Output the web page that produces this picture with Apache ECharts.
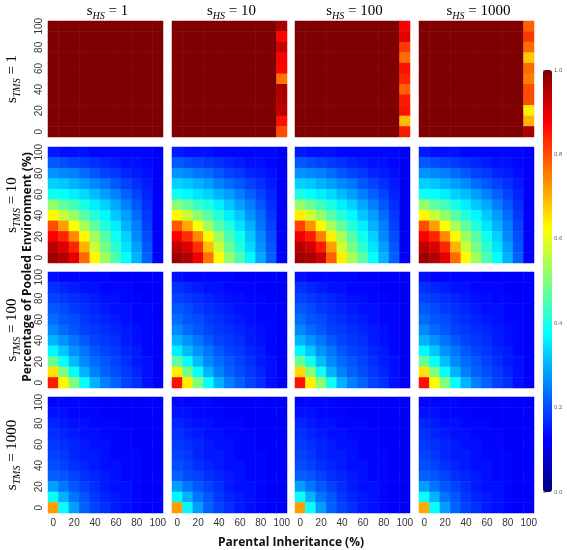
<!DOCTYPE html>
<html>
<head>
<meta charset="utf-8">
<script src="https://cdn.jsdelivr.net/npm/echarts@6/dist/echarts.min.js"></script>
<style>html,body{margin:0;padding:0;background:#fff;}#c{width:567px;height:550px;}</style>
</head>
<body>
<div id="c"></div>
<script>
// Axis categories (Parental Inheritance % on x, Pooled Environment % on y)
const xCats = ['0','10','20','30','40','50','60','70','80','90','100'];
const yCats = ['0','10','20','30','40','50','60','70','80','90','100'];
const colTitles = ['1','10','100','1000'];   // s_HS
const rowTitles = ['1','10','100','1000'];   // s_TMS
const cbTicks = [0, 0.2, 0.4, 0.6, 0.8, 1.0];

// Each matrix: rows listed from y=100 (top) to y=0 (bottom); columns x=0..100
const tms1_hs1 = [
[1.00,1.00,1.00,1.00,1.00,1.00,1.00,1.00,1.00,1.00,1.00],
[1.00,1.00,1.00,1.00,1.00,1.00,1.00,1.00,1.00,1.00,1.00],
[1.00,1.00,1.00,1.00,1.00,1.00,1.00,1.00,1.00,1.00,1.00],
[1.00,1.00,1.00,1.00,1.00,1.00,1.00,1.00,1.00,1.00,1.00],
[1.00,1.00,1.00,1.00,1.00,1.00,1.00,1.00,1.00,1.00,1.00],
[1.00,1.00,1.00,1.00,1.00,1.00,1.00,1.00,1.00,1.00,1.00],
[1.00,1.00,1.00,1.00,1.00,1.00,1.00,1.00,1.00,1.00,1.00],
[1.00,1.00,1.00,1.00,1.00,1.00,1.00,1.00,1.00,1.00,1.00],
[1.00,1.00,1.00,1.00,1.00,1.00,1.00,1.00,1.00,1.00,1.00],
[1.00,1.00,1.00,1.00,1.00,1.00,1.00,1.00,1.00,1.00,1.00],
[1.00,1.00,1.00,1.00,1.00,1.00,1.00,1.00,1.00,1.00,1.00]];
const tms1_hs10 = [
[1.00,1.00,1.00,1.00,1.00,1.00,1.00,1.00,1.00,1.00,0.96],
[1.00,1.00,1.00,1.00,1.00,1.00,1.00,1.00,1.00,1.00,0.87],
[1.00,1.00,1.00,1.00,1.00,1.00,1.00,1.00,1.00,1.00,0.93],
[1.00,1.00,1.00,1.00,1.00,1.00,1.00,1.00,1.00,1.00,0.88],
[1.00,1.00,1.00,1.00,1.00,1.00,1.00,1.00,1.00,1.00,0.87],
[1.00,1.00,1.00,1.00,1.00,1.00,1.00,1.00,1.00,1.00,0.76],
[1.00,1.00,1.00,1.00,1.00,1.00,1.00,1.00,1.00,1.00,0.96],
[1.00,1.00,1.00,1.00,1.00,1.00,1.00,1.00,1.00,1.00,0.95],
[1.00,1.00,1.00,1.00,1.00,1.00,1.00,1.00,1.00,1.00,0.94],
[1.00,1.00,1.00,1.00,1.00,1.00,1.00,1.00,1.00,1.00,0.86],
[1.00,1.00,1.00,1.00,1.00,1.00,1.00,1.00,1.00,1.00,0.80]];
const tms1_hs100 = [
[1.00,1.00,1.00,1.00,1.00,1.00,1.00,1.00,1.00,1.00,0.88],
[1.00,1.00,1.00,1.00,1.00,1.00,1.00,1.00,1.00,1.00,0.90],
[1.00,1.00,1.00,1.00,1.00,1.00,1.00,1.00,1.00,1.00,0.82],
[1.00,1.00,1.00,1.00,1.00,1.00,1.00,1.00,1.00,1.00,0.77],
[1.00,1.00,1.00,1.00,1.00,1.00,1.00,1.00,1.00,1.00,0.86],
[1.00,1.00,1.00,1.00,1.00,1.00,1.00,1.00,1.00,1.00,0.84],
[1.00,1.00,1.00,1.00,1.00,1.00,1.00,1.00,1.00,1.00,0.78],
[1.00,1.00,1.00,1.00,1.00,1.00,1.00,1.00,1.00,1.00,0.85],
[1.00,1.00,1.00,1.00,1.00,1.00,1.00,1.00,1.00,1.00,0.86],
[1.00,1.00,1.00,1.00,1.00,1.00,1.00,1.00,1.00,1.00,0.69],
[1.00,1.00,1.00,1.00,1.00,1.00,1.00,1.00,1.00,1.00,0.85]];
const tms1_hs1000 = [
[1.00,1.00,1.00,1.00,1.00,1.00,1.00,1.00,1.00,1.00,0.78],
[1.00,1.00,1.00,1.00,1.00,1.00,1.00,1.00,1.00,1.00,0.82],
[1.00,1.00,1.00,1.00,1.00,1.00,1.00,1.00,1.00,1.00,0.77],
[1.00,1.00,1.00,1.00,1.00,1.00,1.00,1.00,1.00,1.00,0.68],
[1.00,1.00,1.00,1.00,1.00,1.00,1.00,1.00,1.00,1.00,0.77],
[1.00,1.00,1.00,1.00,1.00,1.00,1.00,1.00,1.00,1.00,0.75],
[1.00,1.00,1.00,1.00,1.00,1.00,1.00,1.00,1.00,1.00,0.80],
[1.00,1.00,1.00,1.00,1.00,1.00,1.00,1.00,1.00,1.00,0.80],
[1.00,1.00,1.00,1.00,1.00,1.00,1.00,1.00,1.00,1.00,0.64],
[1.00,1.00,1.00,1.00,1.00,1.00,1.00,1.00,1.00,1.00,0.70],
[1.00,1.00,1.00,1.00,1.00,1.00,1.00,1.00,1.00,1.00,0.96]];

const tms10_hs1 = [
[0.15,0.14,0.14,0.14,0.13,0.13,0.13,0.13,0.13,0.13,0.12],
[0.21,0.20,0.19,0.18,0.17,0.16,0.15,0.14,0.14,0.13,0.12],
[0.27,0.26,0.25,0.23,0.21,0.19,0.18,0.16,0.15,0.14,0.12],
[0.33,0.32,0.30,0.28,0.26,0.24,0.21,0.19,0.17,0.15,0.12],
[0.39,0.38,0.36,0.34,0.31,0.28,0.25,0.22,0.19,0.16,0.12],
[0.52,0.47,0.44,0.40,0.36,0.33,0.29,0.25,0.21,0.17,0.12],
[0.63,0.57,0.52,0.46,0.41,0.37,0.32,0.28,0.23,0.18,0.12],
[0.80,0.72,0.62,0.54,0.47,0.41,0.36,0.30,0.25,0.19,0.12],
[0.88,0.84,0.74,0.63,0.53,0.46,0.39,0.33,0.26,0.20,0.12],
[0.94,0.91,0.84,0.70,0.57,0.49,0.42,0.35,0.28,0.21,0.12],
[0.97,0.95,0.90,0.77,0.63,0.53,0.45,0.38,0.30,0.22,0.12]];
const tms10_hs10 = [
[0.15,0.14,0.14,0.14,0.13,0.13,0.13,0.13,0.13,0.13,0.12],
[0.21,0.20,0.19,0.18,0.17,0.16,0.15,0.14,0.14,0.13,0.12],
[0.27,0.26,0.24,0.23,0.21,0.19,0.18,0.16,0.15,0.14,0.12],
[0.33,0.32,0.30,0.28,0.25,0.23,0.21,0.19,0.17,0.15,0.12],
[0.39,0.37,0.35,0.33,0.30,0.28,0.25,0.22,0.19,0.16,0.12],
[0.51,0.47,0.43,0.40,0.36,0.32,0.28,0.25,0.21,0.17,0.12],
[0.63,0.57,0.51,0.46,0.41,0.36,0.32,0.27,0.23,0.18,0.12],
[0.79,0.71,0.62,0.53,0.46,0.41,0.35,0.30,0.24,0.19,0.12],
[0.88,0.83,0.74,0.63,0.53,0.45,0.39,0.32,0.26,0.20,0.12],
[0.94,0.91,0.83,0.69,0.57,0.48,0.41,0.34,0.27,0.21,0.12],
[0.97,0.95,0.89,0.76,0.62,0.52,0.45,0.37,0.29,0.22,0.12]];
const tms10_hs100 = [
[0.15,0.14,0.14,0.14,0.13,0.13,0.13,0.13,0.13,0.13,0.12],
[0.21,0.20,0.19,0.18,0.17,0.16,0.15,0.14,0.14,0.13,0.12],
[0.27,0.26,0.25,0.23,0.21,0.19,0.18,0.16,0.15,0.14,0.12],
[0.33,0.32,0.30,0.28,0.26,0.24,0.21,0.19,0.17,0.15,0.12],
[0.40,0.38,0.36,0.34,0.31,0.28,0.25,0.22,0.19,0.16,0.12],
[0.52,0.48,0.44,0.40,0.36,0.33,0.29,0.25,0.21,0.17,0.12],
[0.64,0.58,0.52,0.46,0.41,0.37,0.32,0.28,0.23,0.18,0.12],
[0.81,0.73,0.63,0.54,0.47,0.41,0.36,0.30,0.25,0.19,0.12],
[0.89,0.85,0.75,0.64,0.54,0.46,0.39,0.33,0.26,0.20,0.12],
[0.95,0.92,0.85,0.72,0.58,0.49,0.42,0.35,0.28,0.21,0.12],
[0.97,0.96,0.92,0.78,0.64,0.54,0.46,0.38,0.30,0.22,0.12]];
const tms10_hs1000 = [
[0.15,0.14,0.14,0.14,0.13,0.13,0.13,0.13,0.13,0.13,0.12],
[0.21,0.20,0.19,0.18,0.17,0.16,0.15,0.14,0.14,0.13,0.12],
[0.27,0.26,0.25,0.23,0.21,0.19,0.18,0.16,0.15,0.14,0.12],
[0.33,0.32,0.30,0.28,0.26,0.23,0.21,0.19,0.17,0.15,0.12],
[0.39,0.38,0.36,0.33,0.31,0.28,0.25,0.22,0.19,0.16,0.12],
[0.52,0.47,0.44,0.40,0.36,0.32,0.29,0.25,0.21,0.17,0.12],
[0.63,0.57,0.52,0.46,0.41,0.37,0.32,0.28,0.23,0.18,0.12],
[0.80,0.72,0.62,0.54,0.47,0.41,0.35,0.30,0.25,0.19,0.12],
[0.88,0.84,0.74,0.63,0.53,0.46,0.39,0.33,0.26,0.20,0.12],
[0.94,0.91,0.84,0.70,0.57,0.49,0.42,0.35,0.28,0.21,0.12],
[0.97,0.95,0.90,0.77,0.63,0.53,0.45,0.38,0.30,0.22,0.12]];

const tms100_hs1 = [
[0.14,0.13,0.13,0.13,0.13,0.13,0.12,0.12,0.12,0.12,0.12],
[0.17,0.16,0.15,0.14,0.14,0.13,0.13,0.13,0.12,0.12,0.12],
[0.19,0.18,0.17,0.16,0.15,0.14,0.14,0.13,0.13,0.12,0.12],
[0.21,0.20,0.18,0.17,0.16,0.15,0.14,0.14,0.13,0.13,0.12],
[0.23,0.21,0.20,0.18,0.17,0.16,0.15,0.14,0.13,0.13,0.12],
[0.26,0.23,0.21,0.19,0.18,0.17,0.16,0.15,0.14,0.13,0.12],
[0.30,0.27,0.24,0.21,0.19,0.18,0.17,0.15,0.14,0.13,0.12],
[0.37,0.32,0.27,0.24,0.21,0.19,0.18,0.16,0.15,0.13,0.12],
[0.48,0.38,0.31,0.26,0.23,0.21,0.19,0.17,0.15,0.14,0.12],
[0.65,0.50,0.38,0.30,0.25,0.22,0.20,0.18,0.16,0.14,0.12],
[0.85,0.63,0.50,0.38,0.30,0.25,0.22,0.19,0.17,0.14,0.12]];
const tms100_hs10 = [
[0.14,0.13,0.13,0.13,0.13,0.13,0.12,0.12,0.12,0.12,0.12],
[0.17,0.16,0.15,0.14,0.14,0.13,0.13,0.13,0.12,0.12,0.12],
[0.19,0.18,0.17,0.16,0.15,0.14,0.14,0.13,0.13,0.12,0.12],
[0.21,0.20,0.18,0.17,0.16,0.15,0.14,0.14,0.13,0.13,0.12],
[0.23,0.21,0.20,0.18,0.17,0.16,0.15,0.14,0.13,0.13,0.12],
[0.26,0.23,0.21,0.19,0.18,0.17,0.16,0.15,0.14,0.13,0.12],
[0.30,0.27,0.24,0.21,0.19,0.18,0.17,0.15,0.14,0.13,0.12],
[0.36,0.31,0.27,0.24,0.21,0.19,0.18,0.16,0.15,0.13,0.12],
[0.47,0.38,0.31,0.26,0.23,0.21,0.19,0.17,0.15,0.14,0.12],
[0.64,0.49,0.38,0.30,0.25,0.22,0.20,0.18,0.16,0.14,0.12],
[0.86,0.64,0.50,0.38,0.30,0.25,0.22,0.19,0.17,0.14,0.12]];
const tms100_hs100 = [
[0.14,0.13,0.13,0.13,0.13,0.13,0.12,0.12,0.12,0.12,0.12],
[0.17,0.16,0.15,0.14,0.14,0.13,0.13,0.13,0.12,0.12,0.12],
[0.19,0.18,0.17,0.16,0.15,0.14,0.14,0.13,0.13,0.12,0.12],
[0.21,0.20,0.18,0.17,0.16,0.15,0.14,0.14,0.13,0.13,0.12],
[0.23,0.21,0.20,0.18,0.17,0.16,0.15,0.14,0.13,0.13,0.12],
[0.26,0.23,0.21,0.19,0.18,0.17,0.16,0.15,0.14,0.13,0.12],
[0.30,0.27,0.24,0.21,0.19,0.18,0.17,0.15,0.14,0.13,0.12],
[0.37,0.32,0.27,0.24,0.21,0.19,0.18,0.16,0.15,0.13,0.12],
[0.48,0.39,0.31,0.26,0.23,0.21,0.19,0.17,0.15,0.14,0.12],
[0.66,0.51,0.39,0.30,0.25,0.22,0.20,0.18,0.16,0.14,0.12],
[0.86,0.64,0.51,0.39,0.30,0.25,0.22,0.19,0.17,0.14,0.12]];
const tms100_hs1000 = [
[0.14,0.13,0.13,0.13,0.13,0.13,0.12,0.12,0.12,0.12,0.12],
[0.17,0.16,0.15,0.14,0.14,0.13,0.13,0.13,0.12,0.12,0.12],
[0.19,0.18,0.17,0.16,0.15,0.14,0.14,0.13,0.13,0.12,0.12],
[0.21,0.20,0.18,0.17,0.16,0.15,0.14,0.14,0.13,0.13,0.12],
[0.23,0.21,0.20,0.18,0.17,0.16,0.15,0.14,0.13,0.13,0.12],
[0.26,0.23,0.21,0.19,0.18,0.17,0.16,0.15,0.14,0.13,0.12],
[0.30,0.27,0.24,0.21,0.19,0.18,0.17,0.15,0.14,0.13,0.12],
[0.37,0.32,0.27,0.24,0.21,0.19,0.18,0.16,0.15,0.13,0.12],
[0.48,0.38,0.31,0.26,0.23,0.21,0.19,0.17,0.15,0.14,0.12],
[0.65,0.50,0.38,0.30,0.25,0.22,0.20,0.18,0.16,0.14,0.12],
[0.86,0.63,0.50,0.38,0.30,0.25,0.22,0.19,0.17,0.14,0.12]];

const tms1000_hs1 = [
[0.13,0.13,0.13,0.13,0.12,0.12,0.12,0.12,0.12,0.12,0.12],
[0.14,0.14,0.13,0.13,0.13,0.12,0.12,0.12,0.12,0.12,0.12],
[0.16,0.15,0.14,0.14,0.13,0.13,0.13,0.12,0.12,0.12,0.12],
[0.17,0.16,0.15,0.14,0.14,0.13,0.13,0.13,0.12,0.12,0.12],
[0.18,0.17,0.16,0.15,0.14,0.14,0.13,0.13,0.12,0.12,0.12],
[0.19,0.18,0.16,0.15,0.15,0.14,0.13,0.13,0.13,0.12,0.12],
[0.20,0.19,0.17,0.16,0.15,0.14,0.14,0.13,0.13,0.12,0.12],
[0.22,0.21,0.19,0.17,0.16,0.15,0.14,0.13,0.13,0.12,0.12],
[0.28,0.24,0.21,0.19,0.17,0.15,0.14,0.14,0.13,0.12,0.12],
[0.38,0.30,0.24,0.21,0.18,0.16,0.15,0.14,0.13,0.12,0.12],
[0.72,0.38,0.28,0.22,0.19,0.17,0.15,0.14,0.13,0.12,0.12]];
const tms1000_hs10 = [
[0.13,0.13,0.13,0.13,0.12,0.12,0.12,0.12,0.12,0.12,0.12],
[0.14,0.14,0.13,0.13,0.13,0.12,0.12,0.12,0.12,0.12,0.12],
[0.16,0.15,0.14,0.14,0.13,0.13,0.13,0.12,0.12,0.12,0.12],
[0.17,0.16,0.15,0.14,0.14,0.13,0.13,0.13,0.12,0.12,0.12],
[0.18,0.17,0.16,0.15,0.14,0.14,0.13,0.13,0.12,0.12,0.12],
[0.19,0.18,0.16,0.15,0.15,0.14,0.13,0.13,0.13,0.12,0.12],
[0.20,0.19,0.17,0.16,0.15,0.14,0.14,0.13,0.13,0.12,0.12],
[0.22,0.20,0.19,0.17,0.16,0.15,0.14,0.13,0.13,0.12,0.12],
[0.28,0.24,0.21,0.19,0.17,0.15,0.14,0.14,0.13,0.12,0.12],
[0.37,0.30,0.24,0.21,0.18,0.16,0.15,0.14,0.13,0.12,0.12],
[0.72,0.37,0.28,0.22,0.19,0.17,0.15,0.14,0.13,0.12,0.12]];
const tms1000_hs100 = [
[0.13,0.13,0.13,0.13,0.12,0.12,0.12,0.12,0.12,0.12,0.12],
[0.14,0.14,0.13,0.13,0.13,0.12,0.12,0.12,0.12,0.12,0.12],
[0.16,0.15,0.14,0.14,0.13,0.13,0.13,0.12,0.12,0.12,0.12],
[0.17,0.16,0.15,0.14,0.14,0.13,0.13,0.13,0.12,0.12,0.12],
[0.18,0.17,0.16,0.15,0.14,0.14,0.13,0.13,0.12,0.12,0.12],
[0.19,0.18,0.16,0.15,0.15,0.14,0.13,0.13,0.13,0.12,0.12],
[0.20,0.19,0.17,0.16,0.15,0.14,0.14,0.13,0.13,0.12,0.12],
[0.22,0.21,0.19,0.17,0.16,0.15,0.14,0.13,0.13,0.12,0.12],
[0.28,0.24,0.21,0.19,0.17,0.15,0.14,0.14,0.13,0.12,0.12],
[0.38,0.30,0.24,0.21,0.18,0.16,0.15,0.14,0.13,0.12,0.12],
[0.72,0.38,0.28,0.22,0.19,0.17,0.15,0.14,0.13,0.12,0.12]];
const tms1000_hs1000 = [
[0.13,0.13,0.13,0.13,0.12,0.12,0.12,0.12,0.12,0.12,0.12],
[0.14,0.14,0.13,0.13,0.13,0.12,0.12,0.12,0.12,0.12,0.12],
[0.16,0.15,0.14,0.14,0.13,0.13,0.13,0.12,0.12,0.12,0.12],
[0.17,0.16,0.15,0.14,0.14,0.13,0.13,0.13,0.12,0.12,0.12],
[0.18,0.17,0.16,0.15,0.14,0.14,0.13,0.13,0.12,0.12,0.12],
[0.19,0.18,0.16,0.15,0.15,0.14,0.13,0.13,0.13,0.12,0.12],
[0.20,0.19,0.17,0.16,0.15,0.14,0.14,0.13,0.13,0.12,0.12],
[0.22,0.21,0.19,0.17,0.16,0.15,0.14,0.13,0.13,0.12,0.12],
[0.28,0.24,0.21,0.19,0.17,0.15,0.14,0.14,0.13,0.12,0.12],
[0.38,0.30,0.24,0.21,0.18,0.16,0.15,0.14,0.13,0.12,0.12],
[0.71,0.38,0.28,0.22,0.19,0.17,0.15,0.14,0.13,0.12,0.12]];

const panels = [
  [tms1_hs1, tms1_hs10, tms1_hs100, tms1_hs1000],
  [tms10_hs1, tms10_hs10, tms10_hs100, tms10_hs1000],
  [tms100_hs1, tms100_hs10, tms100_hs100, tms100_hs1000],
  [tms1000_hs1, tms1000_hs10, tms1000_hs100, tms1000_hs1000]
];

const jet = ['#00007F','#0000FF','#007FFF','#00FFFF','#7FFF7F','#FFFF00','#FF7F00','#FF0000','#7F0000'];

// layout
const colLeft = [48, 172, 295, 419];
const rowTop = [21, 147, 272, 397];
const pw = 115, ph = 116;
const cb = {left: 543, top: 70, w: 9, h: 422};

const grids = [], xAxes = [], yAxes = [], series = [];
for (let r = 0; r < 4; r++) {
  for (let c = 0; c < 4; c++) {
    const i = r * 4 + c;
    grids.push({left: colLeft[c], top: rowTop[r], width: pw, height: ph});
    xAxes.push({
      type: 'category', gridIndex: i, data: xCats,
      axisLine: {show: false}, axisTick: {show: false}, splitLine: {show: false},
      axisLabel: {show: r === 3, interval: 1, fontSize: 10, color: '#333',
                  fontFamily: 'Liberation Sans', margin: 5}
    });
    yAxes.push({
      type: 'category', gridIndex: i, data: yCats,
      axisLine: {show: false}, axisTick: {show: false}, splitLine: {show: false},
      axisLabel: {show: c === 0, interval: 1, rotate: 90, fontSize: 10, color: '#333',
                  fontFamily: 'Liberation Sans', margin: 4}
    });
    const m = panels[r][c];
    const data = [];
    for (let row = 0; row < m.length; row++) {
      for (let col = 0; col < m[row].length; col++) {
        data.push([col, m.length - 1 - row, m[row][col]]);
      }
    }
    series.push({
      type: 'heatmap', xAxisIndex: i, yAxisIndex: i, data: data,
      itemStyle: {borderWidth: 0}, emphasis: {disabled: true}, silent: true
    });
  }
}
// colour bar axis
grids.push({left: cb.left, top: cb.top, width: cb.w, height: cb.h});
xAxes.push({type: 'value', gridIndex: 16, show: false, min: 0, max: 1});
yAxes.push({
  type: 'value', gridIndex: 16, position: 'right', min: 0, max: 1, interval: 0.2,
  axisLine: {show: false}, splitLine: {show: false},
  axisTick: {show: true, length: 3, lineStyle: {color: '#777', width: 0.8}},
  axisLabel: {fontSize: 6, color: '#666', margin: 2, fontFamily: 'Liberation Sans',
              formatter: v => cbTicks.indexOf(Math.round(v*10)/10) >= 0 ? v.toFixed(1) : ''}
});
series.push({type: 'scatter', xAxisIndex: 16, yAxisIndex: 16, data: [], silent: true});

const serif = 'Liberation Serif';
const rich = {
  m: {fontFamily: serif, fontSize: 15, color: '#111', lineHeight: 20, verticalAlign: 'middle'},
  s: {fontFamily: serif, fontSize: 10, fontStyle: 'italic', color: '#111', lineHeight: 11, verticalAlign: 'bottom'}
};
const graphics = [];
for (let c = 0; c < 4; c++) {
  graphics.push({
    type: 'text', x: colLeft[c] + pw / 2 + 2, y: 11,
    style: {text: '{m|s}{s|HS}{m| = ' + colTitles[c] + '}', rich: rich, align: 'center', verticalAlign: 'middle'}
  });
}
for (let r = 0; r < 4; r++) {
  graphics.push({
    type: 'text', x: 12, y: rowTop[r] + ph / 2, rotation: Math.PI / 2,
    style: {text: '{m|s}{s|TMS}{m| = ' + rowTitles[r] + '}', rich: rich, align: 'center', verticalAlign: 'middle'}
  });
}
graphics.push({
  type: 'text', x: 28, y: 267, rotation: Math.PI / 2,
  style: {text: 'Percentage of Pooled Environment (%)', fontFamily: 'Open Sans', fontWeight: 'bold',
          fontSize: 12, fill: '#111', align: 'center', verticalAlign: 'middle'}
});
graphics.push({
  type: 'text', x: 291, y: 543,
  style: {text: 'Parental Inheritance (%)', fontFamily: 'Open Sans', fontWeight: 'bold',
          fontSize: 12, fill: '#111', align: 'center', verticalAlign: 'middle'}
});

const chart = echarts.init(document.getElementById('c'), null, {renderer: 'canvas'});
chart.setOption({
  animation: false,
  backgroundColor: '#fff',
  grid: grids, xAxis: xAxes, yAxis: yAxes, series: series,
  visualMap: {
    type: 'continuous', min: 0, max: 1, seriesIndex: [0,1,2,3,4,5,6,7,8,9,10,11,12,13,14,15],
    inRange: {color: jet}, calculable: false, hoverLink: false,
    left: cb.left, top: cb.top, itemWidth: cb.w, itemHeight: cb.h, padding: 0,
    orient: 'vertical', text: null, showLabel: false
  },
  graphic: graphics
});
</script>
</body>
</html>
